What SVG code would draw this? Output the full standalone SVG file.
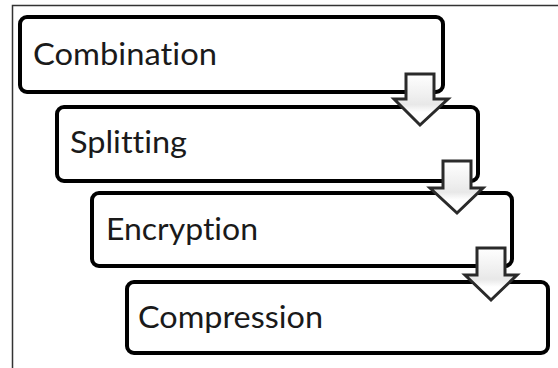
<svg xmlns="http://www.w3.org/2000/svg" width="558" height="368" viewBox="0 0 558 368">
<style>
.box{fill:#fff;stroke:#000;stroke-width:4}
.lbl{font-family:Lato,"Open Sans","Liberation Sans",sans-serif;font-size:31px;fill:#1a1a1a;font-variant-ligatures:none;font-feature-settings:"liga" 0,"clig" 0,"dlig" 0}
.arr{fill:url(#ag);stroke:#2a2a2a;stroke-width:3;stroke-linejoin:miter}
</style>
<defs>
<linearGradient id="ag" x1="0" y1="0" x2="0" y2="1">
<stop offset="0" stop-color="#ffffff"/>
<stop offset="0.4" stop-color="#f0f0f0"/>
<stop offset="0.6" stop-color="#e8e8e8"/>
<stop offset="0.75" stop-color="#ffffff"/>
<stop offset="1" stop-color="#ffffff"/>
</linearGradient>
</defs>
<rect width="558" height="368" fill="#fff"/>
<path d="M12.5,368 V5.5 H558" fill="none" stroke="#333" stroke-width="1.5"/>
<g id="combination">
<rect class="box" x="20" y="17" width="423" height="75" rx="7"/>
<text class="lbl" x="33" y="65" textLength="184" lengthAdjust="spacingAndGlyphs">Combination</text>
</g>
<g id="splitting">
<rect class="box" x="57" y="107" width="421" height="74" rx="7"/>
<text class="lbl" x="70" y="153" textLength="117" lengthAdjust="spacingAndGlyphs">Splitting</text>
</g>
<g id="encryption">
<rect class="box" x="92" y="193" width="420" height="73" rx="7"/>
<text class="lbl" x="106" y="240" textLength="152" lengthAdjust="spacingAndGlyphs">Encryption</text>
</g>
<g id="compression">
<rect class="box" x="127" y="282" width="421" height="71" rx="7"/>
<text class="lbl" x="138" y="328" textLength="185" lengthAdjust="spacingAndGlyphs">Compression</text>
</g>
<g id="connectors">
<polygon class="arr" points="406,74 434,74 434,99 448,99 420,125 394,99 406,99"/>
<polygon class="arr" points="443,161 471,161 471,188 483,188 457,213 430,188 443,188"/>
<polygon class="arr" points="477,248 505,248 505,275 517,275 491,300 465,275 477,275"/>
</g>
</svg>
